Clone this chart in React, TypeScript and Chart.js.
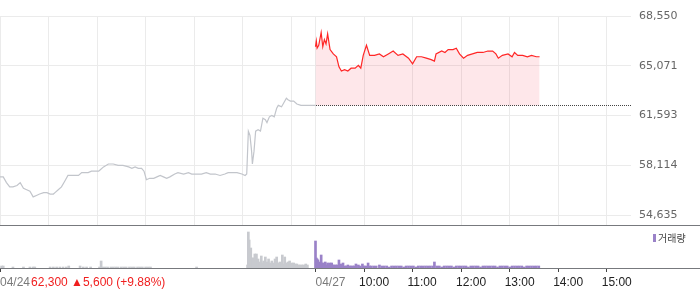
import React, { useEffect, useRef } from "react";
import { Chart, registerables } from "chart.js";

Chart.register(...registerables);

// Minutes counted from 04/24 09:00. 04/27 09:00 sits at minute 390 (sessions are 6.5 h).
const day1Minutes = [0, 4, 8, 12, 16, 21, 25, 29, 33, 37, 41, 45, 49, 54, 58, 62, 66, 68, 72, 76, 80, 84, 89, 93, 97, 101, 105, 109, 113, 117, 122, 124, 128, 134, 140, 146, 152, 159, 163, 167, 171, 175, 178, 181, 185, 190, 194, 198, 202, 206, 210, 216, 220, 227, 233, 237, 243, 249, 255, 260, 266, 272, 278, 282, 286, 293, 299, 303, 305, 307, 309, 311, 312, 314, 316, 319, 322, 325, 328, 330, 333, 336, 339, 342, 344, 348, 350, 354, 356, 359, 363, 367, 372, 376, 381, 387, 390];
const day1Prices = [57300, 57300, 56900, 56600, 56600, 56700, 56900, 56500, 56400, 56300, 55900, 56000, 56100, 56200, 56200, 56100, 56100, 56200, 56400, 56600, 57000, 57400, 57400, 57400, 57400, 57600, 57600, 57600, 57700, 57700, 57700, 57800, 58000, 58200, 58200, 58100, 58100, 58000, 57900, 58000, 57900, 57900, 57700, 57100, 57200, 57200, 57300, 57400, 57300, 57200, 57300, 57500, 57600, 57500, 57600, 57500, 57500, 57500, 57600, 57500, 57500, 57400, 57500, 57600, 57600, 57600, 57500, 57400, 57500, 60500, 60200, 59100, 58200, 59100, 60500, 60600, 60500, 61400, 61300, 61100, 61500, 61600, 61500, 62100, 62300, 62200, 62400, 62800, 62700, 62600, 62600, 62400, 62300, 62300, 62300, 62300, 62300];

const day2Minutes = [390, 391, 392, 394, 397, 399, 401, 403, 405, 408, 412, 416, 419, 422, 426, 430, 434, 439, 443, 446, 449, 453, 457, 463, 469, 474, 480, 486, 492, 498, 505, 510, 515, 521, 527, 533, 537, 539, 546, 550, 554, 560, 564, 568, 573, 578, 584, 590, 597, 603, 609, 613, 616, 621, 628, 633, 636, 640, 646, 652, 657, 663, 667];
const day2Prices = [66400, 66800, 66300, 66500, 67400, 66400, 66900, 66600, 67300, 66200, 65900, 65700, 65000, 64700, 64800, 64700, 64900, 64900, 65100, 64900, 65800, 66500, 65800, 65800, 65900, 65700, 65900, 66100, 65800, 65900, 65600, 65200, 65700, 65700, 65600, 65500, 65400, 65900, 66100, 66000, 66200, 66200, 66300, 65900, 65600, 65800, 65900, 66000, 66000, 66100, 66100, 65900, 65600, 65800, 65900, 65700, 66000, 65800, 65800, 65700, 65800, 65700, 65700];

const prevClose = 62300;

const vol1Minutes = [2, 4, 16, 29, 37, 41, 43, 62, 66, 70, 74, 78, 82, 85, 99, 103, 107, 112, 123, 125, 127, 130, 133, 137, 140, 143, 146, 150, 153, 156, 160, 163, 166, 170, 173, 176, 180, 183, 186, 243,
  306, 307, 308, 309, 310, 311, 312, 313, 314, 315, 316, 317, 318, 319, 320, 321, 323, 325, 326, 328, 330, 332, 334, 336, 338, 340, 342, 344, 346, 348, 349, 350, 352, 354, 356, 358, 360, 361, 363, 365, 367, 369, 371, 373, 375, 377, 378, 380];
const vol1Values = [2, 2, 1, 1, 1, 1, 1, 1, 1, 1, 1, 1, 1, 2, 2, 1, 1, 1, 1, 7, 1, 1, 1, 1, 1, 1, 1, 1, 1, 1, 1, 1, 1, 1, 1, 1, 1, 1, 1, 1,
  3, 36, 28, 12, 20, 8, 10, 10, 6, 14, 8, 14, 6, 9, 5, 6, 12, 5, 7, 11, 6, 9, 5, 7, 5, 9, 11, 5, 6, 4, 13, 4, 11, 5, 6, 7, 4, 5, 5, 4, 4, 3, 3, 3, 3, 3, 4, 3];

const vol2Minutes = [390, 391, 392, 393, 394, 395, 397, 398, 399, 400, 402, 403, 405, 406, 408, 410, 411, 413, 415, 417, 419, 421, 422, 424, 426, 428, 430, 432, 434, 436, 438, 440, 443, 445, 448, 450, 452, 455, 457, 459, 462, 465, 469, 472, 475, 478, 481, 484, 487, 490, 493, 496, 499, 502, 505, 508, 511, 514, 517, 520, 523, 526, 529, 532, 535, 537, 540, 543, 546, 549, 552, 555, 558, 561, 564, 567, 570, 573, 576, 579, 582, 585, 588, 591, 594, 597, 600, 603, 606, 609, 612, 615, 618, 621, 624, 627, 630, 633, 636, 639, 642, 645, 648, 651, 654, 657, 660, 663, 666];
const vol2Values = [27, 10, 9, 8, 6, 5, 13, 5, 4, 5, 6, 3, 5, 3, 5, 5, 3, 3, 3, 3, 8, 4, 3, 5, 2, 2, 3, 2, 2, 2, 2, 4, 3, 2, 4, 2, 2, 5, 2, 2, 2, 2, 3, 2, 2, 2, 1, 2, 2, 2, 2, 2, 1, 2, 2, 2, 2, 1, 2, 2, 2, 2, 2, 2, 2, 6, 2, 2, 1, 2, 2, 2, 2, 1, 2, 2, 2, 2, 2, 1, 2, 2, 2, 2, 1, 2, 2, 2, 2, 2, 2, 1, 2, 2, 2, 2, 1, 2, 2, 2, 2, 2, 1, 2, 2, 2, 2, 2, 2];

const priceTicks = [54635, 58114, 61593, 65071, 68550];
const priceMin = 53936;
const priceMax = 68550;
const volMax = 43;

const gridMinutes = [0, 60, 120, 180, 240, 300, 360, 390, 450, 510, 570, 630, 690, 750];
const axisTickMinutes = [0, 390, 450, 510, 570, 630, 690, 750];
const axisTickLabels = ["04/24", "04/27", "10:00", "11:00", "12:00", "13:00", "14:00", "15:00"];
const baseLineStartMinute = 390;
const closeSummary = "62,300 \u25B25,600 (+9.88%)";
const volumeLabel = "거래량";

const GRID = "#ebebeb";
const AXIS_LINE = "#77797d";
const RED = "#ff2626";
const GRAY_LINE = "#c2c5cb";
const GRAY_BAR = "#c8cacf";
const PURPLE = "#9a82c8";

export default function App() {
  const ref = useRef<HTMLCanvasElement>(null);

  useEffect(() => {
    const canvas = ref.current;
    if (!canvas) return;
    const day1 = day1Minutes.map((m, i) => ({ x: m, y: day1Prices[i] }));
    const day2 = day2Minutes.map((m, i) => ({ x: m, y: day2Prices[i] }));
    const vol1 = vol1Minutes.map((m, i) => ({ x: m, y: vol1Values[i] }));
    const vol2 = vol2Minutes.map((m, i) => ({ x: m, y: vol2Values[i] }));

    const overlay = {
      id: "overlay",
      beforeDatasetsDraw(chart: any) {
        const { ctx } = chart;
        const xs = chart.scales.x;
        const ys = chart.scales.y;
        ctx.save();
        ctx.strokeStyle = GRID;
        ctx.lineWidth = 1;
        ctx.beginPath();
        for (const m of gridMinutes) {
          const px = Math.round(xs.getPixelForValue(m) - 0.5) + 0.5;
          ctx.moveTo(px, ys.top);
          ctx.lineTo(px, ys.bottom);
        }
        ctx.stroke();
        ctx.restore();
      },
      afterDatasetsDraw(chart: any) {
        const { ctx, chartArea } = chart;
        const xs = chart.scales.x;
        const ys = chart.scales.y;
        const py = Math.round(ys.getPixelForValue(prevClose) - 0.5) + 0.5;
        ctx.save();
        ctx.strokeStyle = "#444";
        ctx.lineWidth = 1;
        ctx.setLineDash([1, 1]);
        ctx.beginPath();
        ctx.moveTo(Math.round(xs.getPixelForValue(baseLineStartMinute)), py);
        ctx.lineTo(chartArea.right, py);
        ctx.stroke();
        ctx.restore();
      },
      afterDraw(chart: any) {
        const { ctx, chartArea } = chart;
        const xs = chart.scales.x;
        const ys = chart.scales.y;
        const W = chart.width;
        ctx.save();
        ctx.strokeStyle = AXIS_LINE;
        ctx.lineWidth = 1;
        ctx.beginPath();
        ctx.moveTo(0, Math.round(ys.bottom) + 0.5);
        ctx.lineTo(W, Math.round(ys.bottom) + 0.5);
        ctx.moveTo(0, Math.round(chartArea.bottom) + 0.5);
        ctx.lineTo(W, Math.round(chartArea.bottom) + 0.5);
        ctx.stroke();

        const ly = chartArea.bottom + 15;
        ctx.font = '12px "Liberation Sans", Arial, sans-serif';
        ctx.textBaseline = "middle";
        ctx.textAlign = "left";
        axisTickMinutes.forEach((m, i) => {
          const px = xs.getPixelForValue(m);
          const label = axisTickLabels[i];
          if (label.includes("/")) {
            ctx.fillStyle = "#7a7a7a";
            ctx.fillText(label, px, ly);
            if (i === 0) {
              const w = ctx.measureText(label).width;
              ctx.fillStyle = "#f01e1e";
              ctx.fillText(closeSummary, px + w + 1, ly);
            }
          } else {
            ctx.fillStyle = "#222";
            ctx.fillText(label, px - 5, ly);
          }
        });

        // volume legend
        const vy = ys.bottom + 13;
        ctx.fillStyle = PURPLE;
        ctx.fillRect(653, vy - 4, 3, 8);
        ctx.fillStyle = "#444";
        ctx.font = '10px "Noto Sans CJK KR", sans-serif';
        ctx.fillText(volumeLabel, 658, vy);
        ctx.restore();
      },
    };

    const chart = new Chart(canvas, {
      type: "line",
      data: {
        datasets: [
          {
            data: day1,
            yAxisID: "y",
            borderColor: GRAY_LINE,
            borderWidth: 1.2,
            pointRadius: 0,
            fill: false,
            tension: 0,
          },
          {
            data: day2,
            yAxisID: "y",
            borderColor: RED,
            borderWidth: 1.2,
            pointRadius: 0,
            tension: 0,
            fill: { value: prevClose },
            backgroundColor: "rgba(245, 60, 80, 0.12)",
          },
          {
            type: "bar",
            data: vol1,
            yAxisID: "yVol",
            backgroundColor: GRAY_BAR,
            barThickness: 2,
            grouped: false,
          } as any,
          {
            type: "bar",
            data: vol2,
            yAxisID: "yVol",
            backgroundColor: PURPLE,
            barThickness: 2,
            grouped: false,
          } as any,
        ],
      },
      options: {
        responsive: false,
        animation: false,
        devicePixelRatio: 1,
        layout: { padding: { top: 16, left: 0, right: 0, bottom: 0 } },
        plugins: { legend: { display: false }, tooltip: { enabled: false } },
        scales: {
          x: {
            type: "linear",
            min: 0,
            max: 780,
            offset: false,
            afterBuildTicks: (s: any) => {
              s.ticks = axisTickMinutes.map((v) => ({ value: v }));
            },
            ticks: { display: false },
            grid: { offset: false, drawOnChartArea: false, drawTicks: true, tickLength: 4, color: "#444" },
            border: { display: false },
            afterFit: (s: any) => {
              s.height = 21;
            },
          },
          y: {
            type: "linear",
            position: "right",
            stack: "panes",
            stackWeight: 209,
            weight: 0,
            min: priceMin,
            max: priceMax,
            afterBuildTicks: (s: any) => {
              s.ticks = priceTicks.map((v) => ({ value: v }));
            },
            ticks: {
              padding: 8,
              color: "#666",
              font: { family: "DejaVu Sans", size: 11 },
              callback: (v: any) => Number(v).toLocaleString("en-US"),
            },
            grid: { color: GRID, drawTicks: false },
            border: { display: false },
            afterFit: (s: any) => {
              s.width = 69;
            },
          },
          yVol: {
            type: "linear",
            position: "right",
            stack: "panes",
            stackWeight: 43,
            weight: 1,
            min: 0,
            max: volMax,
            ticks: { display: false },
            grid: { display: false },
            border: { display: false },
            afterFit: (s: any) => {
              s.width = 69;
            },
          },
        },
      } as any,
      plugins: [overlay],
    });

    return () => chart.destroy();
  }, []);

  return (
    <div style={{ position: "absolute", left: 0, top: 0, width: 700, height: 289, background: "#fff" }}>
      <canvas ref={ref} width={700} height={289} style={{ width: 700, height: 289, display: "block" }} />
    </div>
  );
}
